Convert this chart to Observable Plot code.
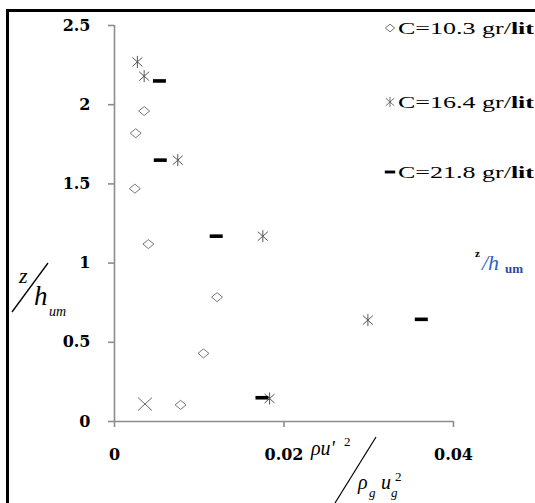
<!DOCTYPE html>
<html><head><meta charset="utf-8">
<script src="https://cdn.jsdelivr.net/npm/d3@7"></script>
<script src="https://cdn.jsdelivr.net/npm/@observablehq/plot@0.6"></script>
<style>
body{margin:0;background:#fff;}
#chart{position:relative;width:535px;height:503px;overflow:hidden;}
svg g[aria-label="y-axis tick label"], svg g[aria-label="x-axis tick label"]{fill:#000;}
</style></head><body><div id="chart"></div>
<script>
const seriesNames = ["C=10.3 gr/lit", "C=16.4 gr/lit", "C=21.8 gr/lit"];
const c103X = [0.0035, 0.0025, 0.0024, 0.0040, 0.0121, 0.0105, 0.0078];
const c103Z = [1.96, 1.82, 1.47, 1.12, 0.785, 0.43, 0.105];
const c164X = [0.0027, 0.0035, 0.00747, 0.0175, 0.0299, 0.0183, 0.0036];
const c164Z = [2.27, 2.18, 1.65, 1.17, 0.64, 0.145, 0.11];
const c218X = [0.0053, 0.0054, 0.0120, 0.0362, 0.0174];
const c218Z = [2.15, 1.65, 1.17, 0.645, 0.15];
const yTicks = [0, 0.5, 1, 1.5, 2, 2.5];
const xTicks = [0, 0.02, 0.04];

const rows = [];
[[c103X, c103Z], [c164X, c164Z], [c218X, c218Z]].forEach(([xs, zs], i) =>
  xs.forEach((x, j) => rows.push({series: seriesNames[i], x, z: zs[j]})));

const diamond = {draw(c){c.moveTo(0,-4.5);c.lineTo(5.5,0);c.lineTo(0,4.5);c.lineTo(-5.5,0);c.closePath();}};
const star = {draw(c){c.moveTo(0,-6);c.lineTo(0,6);c.moveTo(-5,-4.5);c.lineTo(5,4.5);c.moveTo(-5,4.5);c.lineTo(5,-4.5);}};
const cross = {draw(c){c.moveTo(-7,-6.5);c.lineTo(7,6.5);c.moveTo(-7,6.5);c.lineTo(7,-6.5);}};
const dash = {draw(c){c.rect(-6.5,-1.8,13,3.6);}};

const lowest164 = Math.min(...c164Z);
const plot = Plot.plot({
  width: 535, height: 503,
  marginLeft: 114, marginRight: 82, marginTop: 25, marginBottom: 82,
  style: {background: "transparent", fontFamily: "DejaVu Serif"},
  x: {domain: [0, 0.04]},
  y: {domain: [0, 2.5]},
  marks: [
    Plot.ruleY([0], {stroke: "#8c8c8c", strokeWidth: 1.6}),
    Plot.ruleX([0], {stroke: "#8c8c8c", strokeWidth: 1.6}),
    Plot.axisY({ticks: yTicks, tickSize: 6, tickPadding: 18, tickFormat: d => String(d), label: null,
      color: "#8c8c8c", fontSize: 16, fontWeight: "bold", strokeWidth: 1.6}),
    Plot.axisX({ticks: xTicks, tickSize: 6, tickPadding: 21, tickFormat: d => String(d), label: null,
      color: "#8c8c8c", fontSize: 16, fontWeight: "bold", strokeWidth: 1.6}),
    Plot.dot(rows, {filter: d => d.series === seriesNames[0], x: "x", y: "z", symbol: diamond, stroke: "#777", fill: "white", strokeWidth: 1}),
    Plot.dot(rows, {filter: d => d.series === seriesNames[1] && d.z > lowest164, x: "x", y: "z", symbol: star, stroke: "#555", fill: "none", strokeWidth: 1}),
    Plot.dot(rows, {filter: d => d.series === seriesNames[1] && d.z === lowest164, x: "x", y: "z", symbol: cross, stroke: "#666", fill: "none", strokeWidth: 1}),
    Plot.dot(rows, {filter: d => d.series === seriesNames[2], x: "x", y: "z", symbol: dash, fill: "#000", stroke: "none"})
  ]
});
document.getElementById("chart").appendChild(plot);

const svg = d3.select(plot);
// frame
svg.append("path").attr("d", "M7.5,620 V10.5 H620").attr("fill", "none").attr("stroke", "#000").attr("stroke-width", 3);

// legend
const legendY = [28, 102, 172];
const legendSym = [diamond, star, dash];
const lg = svg.append("g").attr("text-anchor", "start");
seriesNames.forEach((name, i) => {
  const p = d3.path(); legendSym[i].draw(p);
  const sx = 390, sy = legendY[i];
  const g = lg.append("g").attr("transform", `translate(${sx},${sy}) scale(${i === 2 ? 0.8 : 0.85})`);
  g.append("path").attr("d", p.toString())
    .attr("fill", i === 2 ? "#000" : "none").attr("stroke", i === 2 ? "none" : "#555");
  const m = name.match(/^(C=[\d.]+) (gr)\/(lit)$/);
  const t = lg.append("text").attr("x", 398).attr("y", legendY[i] + 5.5)
    .attr("font-family", "Liberation Serif").attr("font-size", 16)
    .attr("textLength", 136).attr("lengthAdjust", "spacingAndGlyphs");
  t.append("tspan").text(m[1] + " ");
  t.append("tspan").text(m[2]);
  t.append("tspan").text("/");
  t.append("tspan").attr("font-weight", "bold").text(m[3]);
});

// y label z/h_um
const yl = svg.append("g").attr("text-anchor", "start").attr("font-family", "Liberation Serif").attr("font-style", "italic").attr("fill", "#000");
yl.append("text").attr("x", 19).attr("y", 283).attr("font-size", 22).text("z");
yl.append("line").attr("x1", 12).attr("y1", 312).attr("x2", 48).attr("y2", 263).attr("stroke", "#000").attr("stroke-width", 1.3);
yl.append("text").attr("x", 34).attr("y", 305).attr("font-size", 27).text("h");
yl.append("text").attr("x", 49).attr("y", 316).attr("font-size", 14).text("um");

// x label
const xl = svg.append("g").attr("text-anchor", "start").attr("font-family", "Liberation Serif").attr("font-style", "italic").attr("fill", "#000");
xl.append("text").attr("x", 311).attr("y", 455).attr("font-size", 20).text("ρu'");
xl.append("text").attr("x", 344).attr("y", 446).attr("font-size", 13).attr("font-style", "normal").text("2");
xl.append("line").attr("x1", 335).attr("y1", 503).attr("x2", 376).attr("y2", 437).attr("stroke", "#000").attr("stroke-width", 1.2);
xl.append("text").attr("x", 358).attr("y", 489).attr("font-size", 20).text("ρ");
xl.append("text").attr("x", 369).attr("y", 497).attr("font-size", 13).text("g");
xl.append("text").attr("x", 381).attr("y", 489).attr("font-size", 20).text("u");
xl.append("text").attr("x", 391).attr("y", 497).attr("font-size", 13).text("g");
xl.append("text").attr("x", 395).attr("y", 481).attr("font-size", 13).attr("font-style", "normal").text("2");

// small coloured equation icon
const ic = svg.append("g").attr("text-anchor", "start").attr("font-family", "Liberation Serif");
ic.append("text").attr("x", 475).attr("y", 257).attr("font-size", 11).attr("font-weight", "bold").attr("fill", "#000").text("z");
ic.append("text").attr("x", 482).attr("y", 270).attr("font-size", 22).attr("font-style", "italic").attr("fill", "#2f63c4").text("/h");
ic.append("text").attr("x", 505).attr("y", 273).attr("font-size", 13).attr("font-weight", "bold").attr("fill", "#2a4a9a").text("um");
</script></body></html>
